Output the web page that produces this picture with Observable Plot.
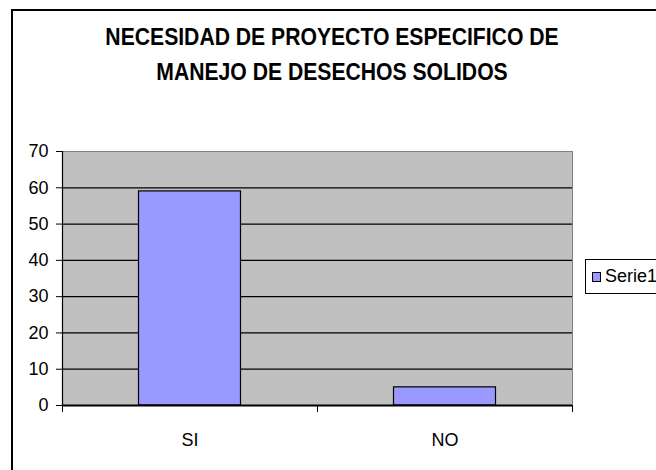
<!DOCTYPE html>
<html>
<head>
<meta charset="utf-8">
<script src="https://cdn.jsdelivr.net/npm/d3@7"></script>
<script src="https://cdn.jsdelivr.net/npm/@observablehq/plot@0.6"></script>
<style>
  html, body { margin: 0; padding: 0; background: #fff; }
  #chart { position: relative; width: 656px; height: 470px; overflow: hidden; background: #fff;
           font-family: "Liberation Sans", Arial, sans-serif; color: #000; }
  #border { position: absolute; left: 11px; top: 9px; right: -10px; bottom: -10px;
            border-left: 2px solid #000; border-top: 2px solid #000; }
  .title { position: absolute; left: 0; width: 664px; text-align: center; font-weight: bold;
           font-size: 23.5px; line-height: 1; transform: scaleX(0.9); transform-origin: 332px 0; white-space: nowrap; }
  #plot { position: absolute; left: 0; top: 130px; }
  #legend { position: absolute; left: 585px; top: 259px; width: 80px; height: 35px;
            border: 1px solid #000; background: #fff; box-sizing: border-box; }
  #legend .sw { position: absolute; left: 6px; top: 12px; width: 9px; height: 10px;
                box-sizing: border-box; border: 1px solid #000; }
  #legend .lb { position: absolute; left: 19px; top: 7px; font-size: 18px; line-height: 1; }
</style>
</head>
<body>
<div id="chart">
  <div id="border"></div>
  <div class="title" id="t1" style="top:26px"></div>
  <div class="title" id="t2" style="top:61px"></div>
  <div id="plot"></div>
  <div id="legend"><div class="sw"></div><div class="lb"></div></div>
</div>
<script>
const titleLines = ["NECESIDAD DE PROYECTO ESPECIFICO DE", "MANEJO DE DESECHOS SOLIDOS"];
const categories = ["SI", "NO"];
const values = [59, 5];
const seriesName = "Serie1";
const yTicks = [0, 10, 20, 30, 40, 50, 60, 70];
const barColor = "#9999ff";

document.getElementById("t1").textContent = titleLines[0];
document.getElementById("t2").textContent = titleLines[1];
document.querySelector("#legend .lb").textContent = seriesName;
document.querySelector("#legend .sw").style.background = barColor;

const data = categories.map((c, i) => ({cat: c, i, value: values[i]}));
const yMax = yTicks[yTicks.length - 1];

const chart = Plot.plot({
  width: 656,
  height: 340,
  marginLeft: 62,
  marginRight: 84,
  marginTop: 21,
  marginBottom: 65,
  style: {fontFamily: '"Liberation Sans", Arial, sans-serif', background: "transparent", color: "#000"},
  x: {domain: [0, categories.length], axis: null},
  y: {domain: [0, yMax], axis: null},
  marks: [
    Plot.frame({fill: "#c0c0c0", stroke: "#808080"}),
    Plot.ruleY(yTicks.filter(t => t > 0 && t < yMax), {stroke: "#000", strokeWidth: 1.2}),
    Plot.rect(data, {x1: d => d.i + 0.3, x2: d => d.i + 0.7, y1: 0, y2: "value", fill: barColor, stroke: "#000", strokeWidth: 1.2}),
    Plot.ruleY([0], {stroke: "#000", strokeWidth: 1.8}),
    Plot.ruleX([0], {stroke: "#000", strokeWidth: 1.2}),
    Plot.axisY({ticks: yTicks, tickSize: 6, tickPadding: 8, fontSize: 18, stroke: "#000", fill: "#000", strokeOpacity: 1, label: null}),
    Plot.axisX({ticks: d3.range(categories.length + 1), tickSize: 7, tickFormat: () => "", stroke: "#000", strokeOpacity: 1, label: null}),
    Plot.text(data, {x: d => d.i + 0.5, y: 0, text: "cat", dy: 35, fontSize: 18, fill: "#000", textAnchor: "middle"})
  ]
});
document.getElementById("plot").appendChild(chart);
</script>
</body>
</html>
